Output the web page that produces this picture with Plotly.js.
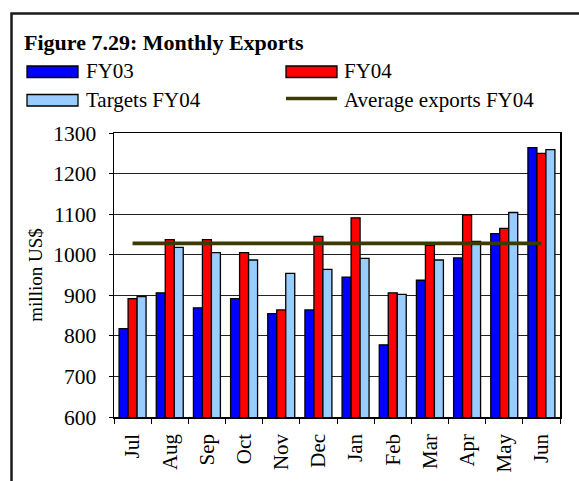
<!DOCTYPE html>
<html>
<head>
<meta charset="utf-8">
<script src="https://cdn.plot.ly/plotly-3.0.1.min.js"></script>
<style>
html,body{margin:0;padding:0;background:#fff;overflow:hidden;}
#wrap{position:relative;width:579px;height:481px;overflow:hidden;}
#chart{width:579px;height:481px;}
</style>
</head>
<body>
<div id="wrap"><div id="chart"></div></div>
<script>
// ---- data ----
var months = ["Jul","Aug","Sep","Oct","Nov","Dec","Jan","Feb","Mar","Apr","May","Jun"];
var fy03 = [818, 906, 869, 892, 855, 864, 945, 778, 937, 992, 1052, 1264];
var fy04 = [892, 1037, 1037, 1005, 864, 1045, 1091, 906, 1023, 1098, 1065, 1250];
var targetsFY04 = [897, 1018, 1005, 987, 954, 964, 991, 902, 987, 1033, 1104, 1259];
var avgExportsFY04 = [1028, 1028, 1028, 1028, 1028, 1028, 1028, 1028, 1028, 1028, 1028, 1028];
var yTicks = [600, 700, 800, 900, 1000, 1100, 1200, 1300];
var seriesNames = ["FY03", "FY04", "Targets FY04", "Average exports FY04"];

// ---- layout geometry (pixels) ----
var W = 579, H = 481, L = 114, R = 19, T = 133, B = 64;
var pw = W - L - R, ph = H - T - B;
function px(x){ return (x - L) / pw; }
function py(y){ return (H - B - y) / ph; }

var serif = "Liberation Serif";
var cBlue = "#0000ff", cRed = "#ff0000", cLight = "#99ccff", cAvg = "#3d3a00";
var outline = {color: "#000", width: 1.3};
function tf(size){ return {family: serif, size: size, color: "#000"}; }

var traces = [
  {type: "bar", name: seriesNames[0], x: months, y: fy03, marker: {color: cBlue, line: outline}, showlegend: false},
  {type: "bar", name: seriesNames[1], x: months, y: fy04, marker: {color: cRed, line: outline}, showlegend: false},
  {type: "bar", name: seriesNames[2], x: months, y: targetsFY04, marker: {color: cLight, line: outline}, showlegend: false},
  {type: "scatter", mode: "lines", name: seriesNames[3], x: months, y: avgExportsFY04, line: {color: cAvg, width: 3.8}, showlegend: false}
];

var shapes = [
  // outer frame: top edge and left edge (right and bottom lie outside the page)
  {type: "path", xref: "paper", yref: "paper",
   path: "M" + px(11.5) + "," + py(490) + " L" + px(11.5) + "," + py(13.5) + " L" + px(590) + "," + py(13.5),
   line: {color: "#1a1a1a", width: 2.5}},
  // legend swatches
  {type: "rect", xref: "paper", yref: "paper", x0: px(27), x1: px(78), y0: py(77.5), y1: py(66), fillcolor: cBlue, line: {color: "#000", width: 1.3}},
  {type: "rect", xref: "paper", yref: "paper", x0: px(286), x1: px(337), y0: py(77.5), y1: py(66), fillcolor: cRed, line: {color: "#000", width: 1.3}},
  {type: "rect", xref: "paper", yref: "paper", x0: px(27), x1: px(78), y0: py(106), y1: py(94.5), fillcolor: cLight, line: {color: "#000", width: 1.3}},
  {type: "line", xref: "paper", yref: "paper", x0: px(286), x1: px(337), y0: py(98.5), y1: py(98.5), line: {color: cAvg, width: 3.5}}
];

function ann(x, y, text, font){
  return {xref: "paper", yref: "paper", x: px(x), y: py(y), xanchor: "left", yanchor: "middle",
          showarrow: false, text: text, font: font};
}
var annotations = [
  ann(22, 42, "<b>Figure 7.29: Monthly Exports</b>", tf(22)),
  ann(84, 71, seriesNames[0], tf(21)),
  ann(342, 71, seriesNames[1], tf(21)),
  ann(84, 99.5, seriesNames[2], tf(21)),
  ann(342, 99.5, seriesNames[3], tf(21))
];

var layout = {
  width: W, height: H,
  margin: {l: L, r: R, t: T, b: B, pad: 0},
  paper_bgcolor: "#fff", plot_bgcolor: "#fff",
  barmode: "group", bargap: 0.274, bargroupgap: 0,
  showlegend: false,
  font: tf(21),
  xaxis: {
    type: "category", tickangle: -90, tickson: "boundaries",
    ticks: "outside", ticklen: 5, tickcolor: "#000", tickwidth: 1,
    showline: true, linecolor: "#000", linewidth: 1.5, mirror: true,
    showgrid: false, tickfont: tf(21), ticklabelstandoff: 7
  },
  yaxis: {
    range: [600, 1300], tickvals: yTicks, ticktext: yTicks.map(String),
    ticks: "outside", ticklen: 4, tickcolor: "#000", tickwidth: 1,
    showline: true, linecolor: "#000", linewidth: 1.5, mirror: true,
    showgrid: true, gridcolor: "#222", gridwidth: 1, zeroline: false,
    tickfont: tf(21.5), ticklabelstandoff: 8,
    title: {text: "million US$", font: tf(19), standoff: 5}
  },
  shapes: shapes,
  annotations: annotations
};

Plotly.newPlot("chart", traces, layout, {staticPlot: true, displayModeBar: false});
</script>
</body>
</html>
